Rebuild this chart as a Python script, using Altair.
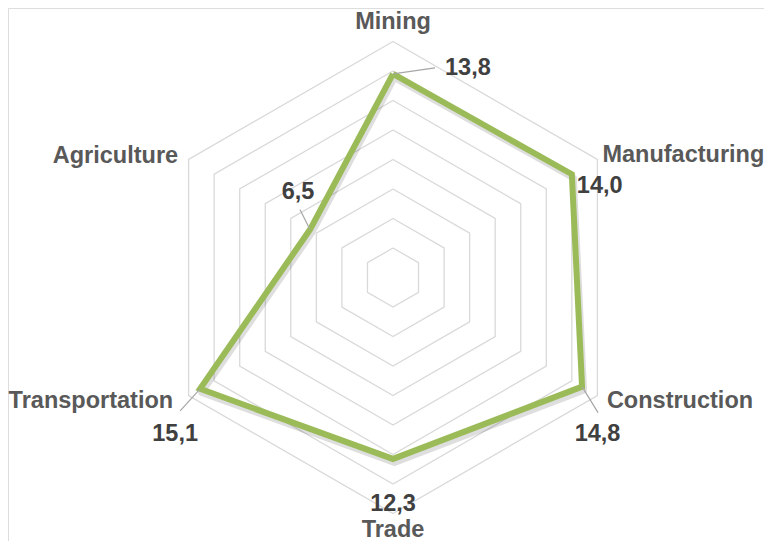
import math
import altair as alt
import pandas as pd

categories = ["Mining", "Manufacturing", "Construction", "Trade", "Transportation", "Agriculture"]
values = [13.8, 14.0, 14.8, 12.3, 15.1, 6.5]
value_labels = ["13,8", "14,0", "14,8", "12,3", "15,1", "6,5"]
ring_levels = [2, 4, 6, 8, 10, 12, 14, 16]

n = len(categories)
angles = [2 * math.pi * i / n for i in range(n)]

def px(r, a):
    return r * math.sin(a), r * math.cos(a)

# grid rings
ring_rows = []
for lv in ring_levels:
    for k in range(n + 1):
        x, y = px(lv, angles[k % n])
        ring_rows.append({"ring": lv, "order": k, "x": x, "y": y})
rings = pd.DataFrame(ring_rows)

# series polygon
ser_rows = []
for k in range(n + 1):
    x, y = px(values[k % n], angles[k % n])
    ser_rows.append({"order": k, "x": x, "y": y, "cat": categories[k % n]})
series = pd.DataFrame(ser_rows)

R = max(ring_levels)
W, H = 756, 533
PPU = 14.75
CX, CY = 385, 269.5
XD = [-CX / PPU, (W - CX) / PPU]
YD = [-(H - CY) / PPU, CY / PPU]
xs = alt.Scale(domain=XD, nice=False, zero=False)
ys = alt.Scale(domain=YD, nice=False, zero=False)
X = lambda: alt.X("x:Q", scale=xs, axis=None)
Y = lambda: alt.Y("y:Q", scale=ys, axis=None)

grid = alt.Chart(rings).mark_line(color="#d9d9d9", strokeWidth=1.3).encode(
    x=X(), y=Y(), detail="ring:N", order="order:Q")

shadow = alt.Chart(series).mark_line(
    color="#000000", opacity=0.13, strokeWidth=7, xOffset=1.5, yOffset=3.5, strokeJoin="round"
).encode(x=X(), y=Y(), order="order:Q")

line = alt.Chart(series).mark_line(color="#9bbb59", strokeWidth=6, strokeJoin="miter").encode(
    x=X(), y=Y(), order="order:Q")

layers = [grid, shadow, line]

FS = 23.5

# category labels (align, dx, dy from outer vertex; baseline alphabetic)
cat_style = {
    "Mining": ("center", 0, -12.5),
    "Manufacturing": ("left", 5, 2),
    "Construction": ("left", 9.5, 12),
    "Trade": ("center", 0, 23),
    "Transportation": ("right", -15.5, 12),
    "Agriculture": ("right", -10.5, 3),
}
for c, a in zip(categories, angles):
    x, y = px(R, a)
    al, dx, dy = cat_style[c]
    df = pd.DataFrame([{"x": x, "y": y, "t": c}])
    layers.append(alt.Chart(df).mark_text(
        font="Liberation Sans", fontWeight="bold", fontSize=FS, color="#595959",
        align=al, baseline="alphabetic", dx=dx, dy=dy
    ).encode(x=X(), y=Y(), text="t:N"))

# value labels
val_style = {
    "Mining": ("left", 52, 1),
    "Manufacturing": ("left", 5, 18.5),
    "Construction": ("center", 15.5, 54),
    "Trade": ("center", 0, 52),
    "Transportation": ("center", -25, 51.7),
    "Agriculture": ("center", -12, -30.3),
}
leader = {
    "Mining": (42, -6),
    "Construction": (16, 26),
    "Transportation": (-20, 22),
    "Agriculture": (-10, -20),
}
for c, a, v, lab in zip(categories, angles, values, value_labels):
    x, y = px(v, a)
    df = pd.DataFrame([{"x": x, "y": y, "t": lab}])
    if c in leader:
        ox, oy = leader[c]
        layers.append(alt.Chart(df).mark_rule(
            color="#a6a6a6", strokeWidth=1.2, x2Offset=ox, y2Offset=oy
        ).encode(x=X(), y=Y(), x2="x:Q", y2="y:Q"))
    al, dx, dy = val_style[c]
    layers.append(alt.Chart(df).mark_text(
        font="Liberation Sans", fontWeight="bold", fontSize=FS, color="#404040",
        align=al, baseline="alphabetic", dx=dx, dy=dy
    ).encode(x=X(), y=Y(), text="t:N"))

chart = alt.layer(*layers).properties(
    width=W, height=H, padding=0, autosize=alt.AutoSizeParams(type="none")
).configure_view(stroke=None).configure(background="white")

chart.save("out.html", embed_options={"renderer": "svg", "actions": False})
